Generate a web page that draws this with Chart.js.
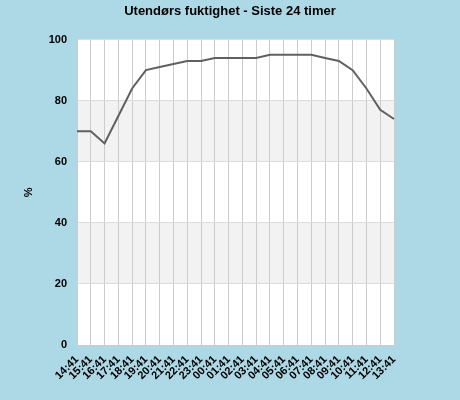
<!DOCTYPE html>
<html>
<head>
<meta charset="utf-8">
<script src="https://cdn.jsdelivr.net/npm/chart.js@4"></script>
<style>
	body { margin: 0; background: #add8e6; }
	#wrap { width: 460px; height: 400px; }
</style>
</head>
<body>
<div id="wrap"><canvas id="humidity" width="460" height="400"></canvas></div>
<script>
const hours = [
	"14:41", "15:41", "16:41", "17:41", "18:41", "19:41", "20:41", "21:41",
	"22:41", "23:41", "00:41", "01:41", "02:41", "03:41", "04:41", "05:41",
	"06:41", "07:41", "08:41", "09:41", "10:41", "11:41", "12:41", "13:41",
];
const humidity = [
	70, 70, 66, 75, 84, 90, 91, 92, 93, 93, 94, 94,
	94, 94, 95, 95, 95, 95, 94, 93, 90, 84, 77, 74,
];
const bands = [[20, 40], [60, 80]];

// white plot area with grey bands
const bandPlugin = {
	id: "bands",
	beforeDraw(chart) {
		const { ctx, chartArea: a, scales } = chart;
		ctx.save();
		ctx.fillStyle = "#add8e6";
		ctx.fillRect(0, 0, chart.width, chart.height);
		ctx.fillStyle = "#ffffff";
		ctx.fillRect(a.left, a.top, a.right - a.left, a.bottom - a.top);
		ctx.fillStyle = "#f2f2f2";
		for (let b of bands) {
			let y1 = scales.y.getPixelForValue(b[1]);
			let y0 = scales.y.getPixelForValue(b[0]);
			ctx.fillRect(a.left, y1, a.right - a.left, y0 - y1);
		}
		ctx.restore();
	},
};

const tickFont = { family: "Liberation Sans", size: 11, weight: "bold" };

new Chart(document.getElementById("humidity").getContext("2d"), {
	type: "line",
	data: {
		labels: hours,
		datasets: [
			{
				data: humidity,
				borderColor: "#606060",
				borderWidth: 2,
				pointRadius: 0,
				tension: 0,
			},
		],
	},
	options: {
		responsive: false,
		animation: false,
		layout: { padding: 0 },
		scales: {
			x: {
				offset: false,
				grid: { color: "#cccccc", drawTicks: false },
				border: { color: "#cccccc" },
				ticks: {
					autoSkip: false,
					maxRotation: 45,
					minRotation: 45,
					color: "#000",
					font: tickFont,
					padding: 8,
				},
				afterFit: (s) => { s.height = 55; },
			},
			y: {
				min: 0,
				max: 100,
				grid: { color: "#dddddd", drawTicks: false },
				border: { color: "#cccccc" },
				ticks: { stepSize: 20, color: "#000", font: tickFont, padding: 10 },
				title: {
					display: true,
					text: "%",
					color: "#000",
					font: tickFont,
					padding: { top: 22, bottom: 4 },
				},
				afterFit: (s) => { s.width = 77; },
			},
			// empty right axis, only keeps the plot clear of the right edge
			yRight: {
				position: "right",
				min: 0,
				max: 100,
				grid: { display: false },
				border: { display: false },
				ticks: { display: false },
				afterFit: (s) => { s.width = 66; },
			},
		},
		plugins: {
			legend: { display: false },
			tooltip: { enabled: false },
			title: {
				display: true,
				text: "Utendørs fuktighet - Siste 24 timer",
				color: "#000",
				font: { family: "Liberation Sans", size: 13, weight: "bold" },
				padding: { top: 4, bottom: 20 },
			},
		},
	},
	plugins: [bandPlugin],
});
</script>
</body>
</html>
